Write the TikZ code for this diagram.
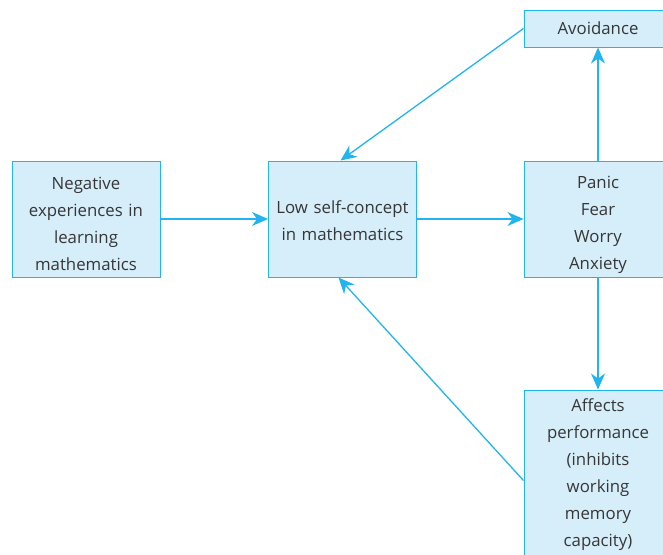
\documentclass[tikz,border=0pt]{standalone}
\usepackage{fontspec}
\setmainfont{Open Sans}
\usetikzlibrary{arrows.meta}
\definecolor{boxline}{HTML}{22B4EE}
\definecolor{boxfill}{HTML}{D6EEFA}
\definecolor{textgrey}{HTML}{363636}
\newcommand\toppad[1]{\rule{0pt}{#1}} % pushes the text down in its box

\begin{document}
\begin{tikzpicture}[x=1pt,y=-1pt,
    box/.style={draw=boxline,fill=boxfill,line width=1pt,text=textgrey,align=center,
      minimum width=148pt,text width=144pt,inner sep=0pt,font=\fontsize{16.8}{27}\selectfont},
    link/.style={draw=boxline,line width=1.3pt,-{Stealth[length=16pt,width=14pt,inset=5pt]}}]
    \clip (0,0) rectangle (663,554); % page size, right boxes are cut off
    % boxes
    \node[box,minimum height=116pt] (negexp) at (86,219) {\toppad{22pt}Negative\\experiences in\\learning\\mathematics};
    \node[box,minimum height=116pt] (lowself) at (342.5,219) {\toppad{17pt}Low self-concept\\in mathematics};
    \node[box,minimum height=116pt] (panic) at (598,219) {\toppad{24pt}Panic\\Fear\\Worry\\Anxiety};
    \node[box,minimum height=37pt] (avoid) at (598,28.5) {Avoidance};
    \node[box,minimum height=167pt] (affects) at (598,473.5) {\toppad{16pt}Affects\\performance\\(inhibits\\working\\memory\\capacity)};
    % arrows
    \draw[link] (negexp) -- (lowself);
    \draw[link] (lowself) -- (panic);
    \draw[link] (panic) -- (avoid);
    \draw[link] (panic) -- (affects);
    \draw[link] (avoid.west) -- ([xshift=-2pt]lowself.north);
    \draw[link] ([yshift=-7pt]affects.west) -- ([xshift=-4pt]lowself.south);
\end{tikzpicture}
\end{document}
